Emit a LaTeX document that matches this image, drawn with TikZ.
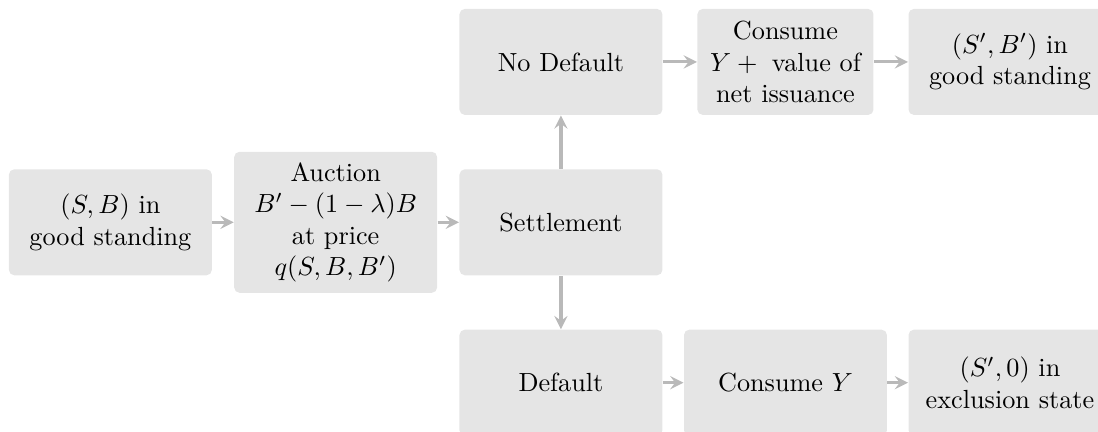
\documentclass[tikz,border=0pt]{standalone}
\usepackage{amssymb}
\usepackage{mathtools}
\usetikzlibrary{arrows}

\begin{document}
\begin{tikzpicture}[
        stage/.style={fill=black!10, rounded corners=2pt, align=center,
            minimum width=2.72cm, minimum height=1.42cm, inner sep=0pt},
        flow/.style={-stealth, gray!55, very thick}
    ]

        \useasboundingbox (0,0) rectangle (14.72,5.79);

        % middle row
        \node[stage] (start) at (1.48,2.81) {$(S,B)$ in\\ good standing};
        \node[stage, minimum height=1.89cm] (auction) at (4.50,2.81) {Auction\\ $B'-(1-\lambda)B$\\ at price\\ $q(S,B,B')$};
        \node[stage] (settle) at (7.52,2.81) {Settlement};

        % top row
        \node[stage] (nodef) at (7.52,4.96) {No Default};
        \node[stage, minimum width=2.36cm] (consume) at (10.53,4.96) {Consume\\ $Y+{}$ value of\\ net issuance};
        \node[stage] (good) at (13.54,4.96) {$(S',B')$ in\\ good standing};

        % bottom row
        \node[stage] (def) at (7.52,0.66) {Default};
        \node[stage] (consumey) at (10.53,0.66) {Consume $Y$};
        \node[stage] (excl) at (13.54,0.66) {$(S',0)$ in\\ exclusion state};

        \draw[flow] (start) -- (auction);
        \draw[flow] (auction) -- (settle);
        \draw[flow] (settle) -- (nodef);
        \draw[flow] (settle) -- (def);
        \draw[flow] (nodef) -- (consume);
        \draw[flow] (consume) -- (good);
        \draw[flow] (def) -- (consumey);
        \draw[flow] (consumey) -- (excl);

\end{tikzpicture}
\end{document}
